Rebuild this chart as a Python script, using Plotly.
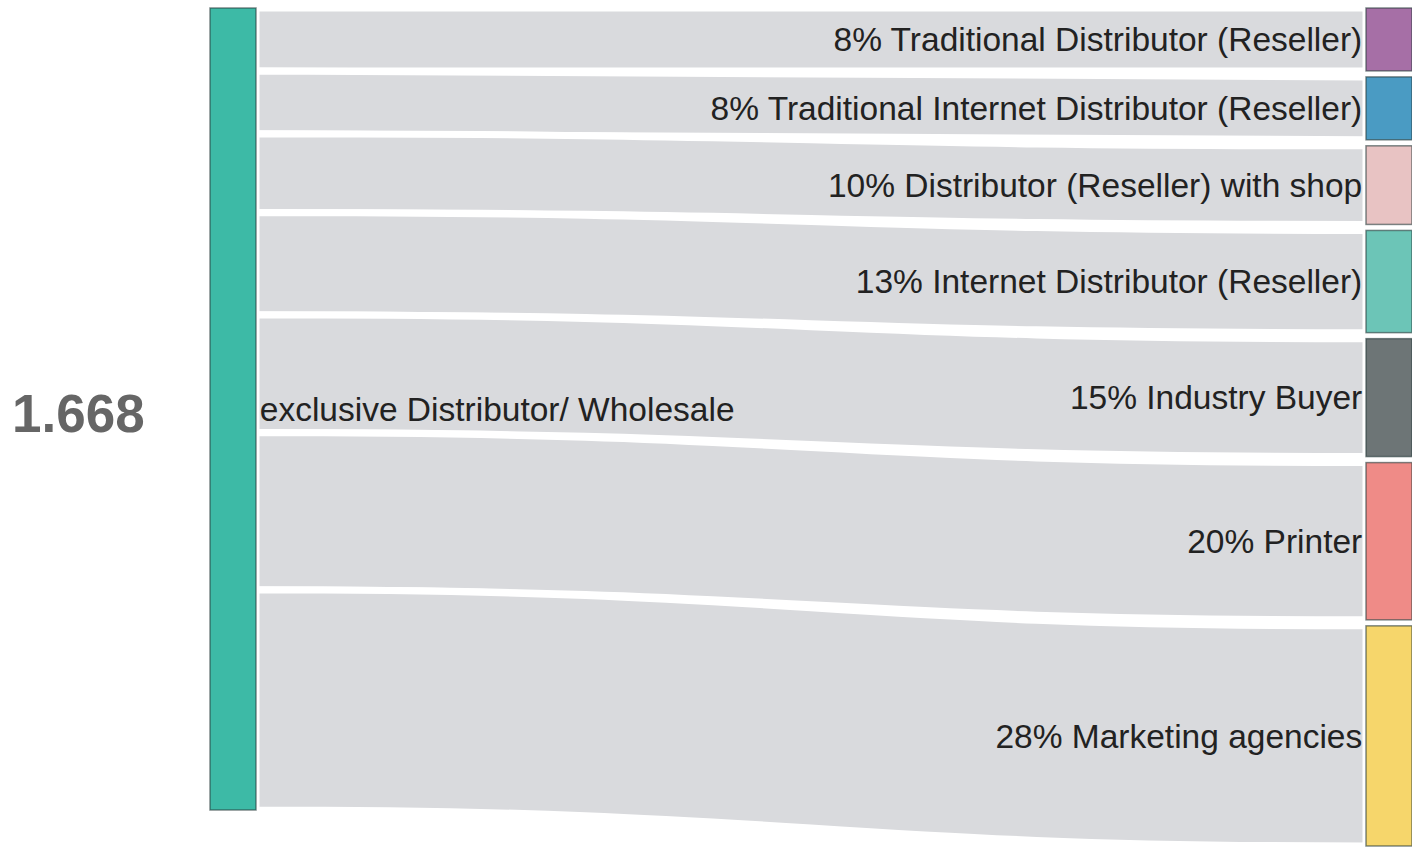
import plotly.graph_objects as go

# Channel split of the exclusive distributor / wholesale volume
source_label = "exclusive Distributor/ Wholesale"
channels = [
    "Traditional Distributor (Reseller)",
    "Traditional Internet Distributor (Reseller)",
    "Distributor (Reseller) with shop",
    "Internet Distributor (Reseller)",
    "Industry Buyer",
    "Printer",
    "Marketing agencies",
]
shares = [8, 8, 10, 13, 15, 20, 28]
total_label = "1.668"

source_color = "#3dbaa6"
channel_colors = ["#a66fa6", "#4a9bc3", "#e8c3c3", "#6cc5b7", "#6d7576", "#ef8b87", "#f6d66b"]
link_color = "#d9dadd"

W, H = 1412, 851
dom_x = [210 / W, 1.0]
dom_y = [5 / H, 1 - 8 / H]
pad = 6
thickness = 46

# Keep the channels stacked in list order (smallest on top): node centres are
# derived from the cumulative shares in normalised domain units.
dom_w = (dom_x[1] - dom_x[0]) * W
dom_h = (dom_y[1] - dom_y[0]) * H
total = sum(shares)
ky = (dom_h - (len(shares) - 1) * pad) / total

node_x = [thickness / 2 / dom_w]
node_y = [total * ky / 2 / dom_h]
offset = 0.0
for v in shares:
    node_x.append(1 - thickness / 2 / dom_w)
    node_y.append((offset + v * ky / 2) / dom_h)
    offset += v * ky + pad

node_labels = [source_label] + [f"{p}% {c}" for p, c in zip(shares, channels)]
node_colors = [source_color] + channel_colors

fig = go.Figure(
    go.Sankey(
        domain=dict(x=dom_x, y=dom_y),
        arrangement="fixed",
        hoverinfo="none",
        node=dict(
            label=node_labels,
            color=node_colors,
            x=node_x,
            y=node_y,
            pad=pad,
            thickness=thickness,
            line=dict(color="rgba(40,60,60,0.6)", width=1.5),
        ),
        link=dict(
            source=[0] * len(shares),
            target=list(range(1, len(shares) + 1)),
            value=shares,
            color=link_color,
            line=dict(color="white", width=7),
        ),
        textfont=dict(family="Arial, Liberation Sans, sans-serif", size=33.5, color="#222222", shadow="none"),
    )
)

fig.add_annotation(
    x=78 / W, y=1 - 413 / H, xref="paper", yref="paper",
    text=f"<b>{total_label}</b>", showarrow=False,
    xanchor="center", yanchor="middle",
    font=dict(family="Arial, Liberation Sans, sans-serif", size=53, color="#666666"),
)

fig.update_layout(
    width=W, height=H,
    margin=dict(l=0, r=0, t=0, b=0),
    paper_bgcolor="white",
    plot_bgcolor="white",
)

fig.write_html("out.html")
